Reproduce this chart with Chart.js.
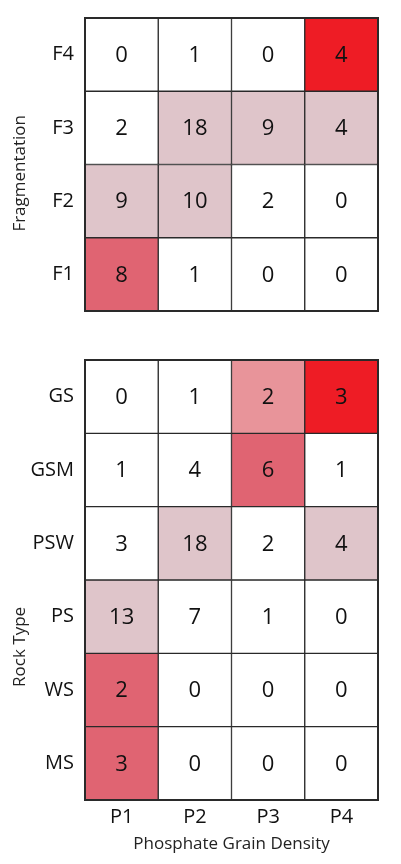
<!DOCTYPE html>
<html lang="en">
<head>
  <meta charset="UTF-8" />
  <title>Phosphate grain density heatmaps</title>
  <script src="https://cdn.jsdelivr.net/npm/chart.js"></script>
  <style>
    body {
      margin: 0;
      background: #fff;
      width: 401px;
      height: 864px;
      overflow: hidden;
    }
    canvas {
      display: block;
    }
  </style>
</head>
<body>

<canvas id="fragChart" width="401" height="330"></canvas>
<canvas id="rockChart" width="401" height="534"></canvas>

<script>
const colLabels = ['P1', 'P2', 'P3', 'P4'];

// top panel, rows listed top to bottom
const fragLabels = ['F4', 'F3', 'F2', 'F1'];
const fragCounts = [
  [0, 1, 0, 4],
  [2, 18, 9, 4],
  [9, 10, 2, 0],
  [8, 1, 0, 0]
];
const fragShade = [
  [0, 0, 0, 4],
  [0, 1, 1, 1],
  [1, 1, 0, 0],
  [3, 0, 0, 0]
];

// bottom panel
const rockLabels = ['GS', 'GSM', 'PSW', 'PS', 'WS', 'MS'];
const rockCounts = [
  [0, 1, 2, 3],
  [1, 4, 6, 1],
  [3, 18, 2, 4],
  [13, 7, 1, 0],
  [2, 0, 0, 0],
  [3, 0, 0, 0]
];
const rockShade = [
  [0, 0, 2, 4],
  [0, 0, 3, 0],
  [0, 1, 0, 1],
  [1, 0, 0, 0],
  [3, 0, 0, 0],
  [3, 0, 0, 0]
];

const shadeColors = ['#ffffff', '#dfc5ca', '#e8949a', '#e06472', '#ee1c25'];
const FONT = "'Open Sans', 'DejaVu Sans', sans-serif";

// numbers in the middle of each cell + outer frame + rotated y title
const cellText = {
  id: 'cellText',
  afterDatasetsDraw(chart, args, opts) {
    const ctx = chart.ctx;
    const area = chart.chartArea;
    ctx.save();
    ctx.strokeStyle = '#2a2a2a';
    ctx.lineWidth = 2;
    ctx.strokeRect(area.left, area.top, area.right - area.left, area.bottom - area.top);

    ctx.fillStyle = '#111';
    ctx.font = '22px ' + FONT;
    ctx.textAlign = 'center';
    ctx.textBaseline = 'middle';
    chart.data.datasets.forEach((ds, di) => {
      const meta = chart.getDatasetMeta(di);
      meta.data.forEach((bar, i) => {
        const p = bar.getProps(['x', 'y', 'base'], true);
        ctx.fillText(String(ds.counts[i]), p.x, (p.y + p.base) / 2 + 1);
      });
    });

    // y title, sits a bit below the middle like the original
    ctx.font = '17px ' + FONT;
    ctx.fillStyle = '#222';
    ctx.translate(20, area.top + (area.bottom - area.top) * opts.titlePos);
    ctx.rotate(-Math.PI / 2);
    ctx.fillText(opts.title, 0, 0);
    ctx.restore();
  }
};

function makeHeatmap(id, rows, counts, shades, cfg) {
  const datasets = rows.map((name, r) => ({
    label: name,
    data: colLabels.map(() => [r, r + 1]),
    counts: counts[r],
    backgroundColor: shades[r].map(s => shadeColors[s]),
    borderColor: '#2a2a2a',
    borderWidth: 1,
    borderSkipped: false,
    grouped: false,
    barPercentage: 1,
    categoryPercentage: 1
  }));

  return new Chart(document.getElementById(id), {
    type: 'bar',
    data: { labels: colLabels, datasets: datasets },
    options: {
      responsive: false,
      animation: false,
      layout: { padding: cfg.padding },
      plugins: {
        legend: { display: false },
        tooltip: { enabled: false },
        cellText: { title: cfg.title, titlePos: cfg.titlePos }
      },
      scales: {
        x: {
          type: 'category',
          display: cfg.showX,
          grid: { display: false, drawTicks: false },
          border: { display: false },
          ticks: { color: '#111', padding: 5, font: { family: FONT, size: 20 } },
          title: {
            display: true,
            text: 'Phosphate Grain Density',
            color: '#222',
            font: { family: FONT, size: 17 }
          },
          afterFit: (scale) => {
            if (cfg.showX) scale.height = 58;
            else scale.height = 0;
            scale.paddingLeft = 0;
            scale.paddingRight = 0;
          }
        },
        y: {
          type: 'linear',
          min: 0,
          max: rows.length,
          reverse: true,
          grid: { display: false, drawTicks: false },
          border: { display: false },
          afterBuildTicks: (scale) => {
            scale.ticks = rows.map((_, i) => ({ value: i + 0.5 }));
          },
          ticks: {
            autoSkip: false,
            color: '#111',
            padding: 11,
            font: { family: FONT, size: 20 },
            callback: (v, i) => rows[i]
          },
          afterFit: (scale) => {
            scale.width = 85;
            scale.paddingTop = 0;
            scale.paddingBottom = 0;
          }
        }
      }
    },
    plugins: [cellText]
  });
}

makeHeatmap('fragChart', fragLabels, fragCounts, fragShade, {
  padding: { top: 18, right: 23, bottom: 19, left: 0 },
  showX: false,
  title: 'Fragmentation',
  titlePos: 0.53
});

makeHeatmap('rockChart', rockLabels, rockCounts, rockShade, {
  padding: { top: 30, right: 23, bottom: 6, left: 0 },
  showX: true,
  title: 'Rock Type',
  titlePos: 0.652
});
</script>

</body>
</html>
